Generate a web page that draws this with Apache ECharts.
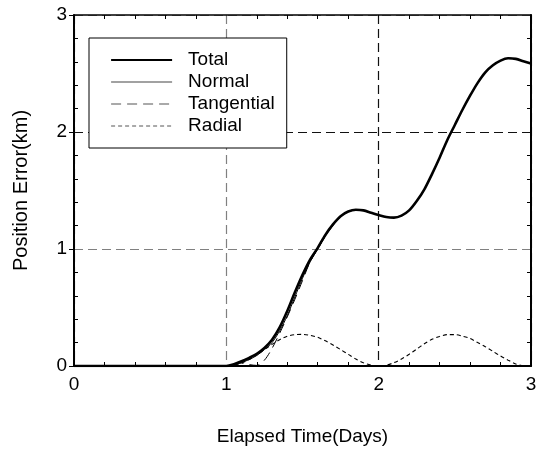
<!DOCTYPE html>
<html><head><meta charset="utf-8">
<script src="https://cdn.jsdelivr.net/npm/echarts@6/dist/echarts.min.js"></script>
<style>html,body{margin:0;padding:0;background:#fff}#c{width:540px;height:451px}</style>
</head><body><div id="c"></div>
<script>
const days = [0, 0.5, 1.0, 1.05, 1.1, 1.15, 1.2, 1.25, 1.3, 1.35, 1.4, 1.45, 1.5, 1.55, 1.6, 1.65, 1.7, 1.75, 1.8, 1.85, 1.9, 1.95, 2.0, 2.05, 2.1, 2.15, 2.2, 2.25, 2.3, 2.35, 2.4, 2.45, 2.5, 2.55, 2.6, 2.65, 2.7, 2.75, 2.8, 2.85, 2.9, 2.95, 3.0];
const totalErr = [0, 0, 0, 0.015, 0.04, 0.07, 0.105, 0.155, 0.225, 0.33, 0.47, 0.63, 0.78, 0.91, 1.01, 1.12, 1.21, 1.28, 1.32, 1.335, 1.33, 1.31, 1.29, 1.273, 1.268, 1.285, 1.33, 1.41, 1.51, 1.64, 1.78, 1.93, 2.06, 2.19, 2.31, 2.42, 2.51, 2.57, 2.61, 2.63, 2.625, 2.605, 2.585];
const normalErr = [0, 0, 0, 0.01, 0.03, 0.055, 0.09, 0.14, 0.2, 0.3, 0.43, 0.59, 0.75, 0.89, 1.0, 1.112, 1.205, 1.278, 1.318, 1.334, 1.33, 1.31, 1.29, 1.273, 1.268, 1.285, 1.33, 1.41, 1.51, 1.64, 1.78, 1.93, 2.06, 2.19, 2.31, 2.42, 2.51, 2.57, 2.61, 2.63, 2.625, 2.605, 2.585];
const tangentialErr = [0, 0, 0, 0.02, 0.025, 0.012, 0.005, 0.05, 0.15, 0.28, 0.42, 0.57, 0.73, 0.89, 1.0, 1.11, 1.2, 1.275, 1.318, 1.334, 1.33, 1.31, 1.29, 1.273, 1.268, 1.285, 1.33, 1.41, 1.51, 1.64, 1.78, 1.93, 2.06, 2.19, 2.31, 2.42, 2.51, 2.57, 2.61, 2.63, 2.625, 2.605, 2.585];
const radialErr = [0, 0, 0, 0.007, 0.026, 0.055, 0.095, 0.14, 0.185, 0.225, 0.255, 0.268, 0.27, 0.262, 0.245, 0.215, 0.18, 0.14, 0.1, 0.06, 0.028, 0.008, 0, 0.007, 0.028, 0.06, 0.1, 0.145, 0.19, 0.228, 0.252, 0.268, 0.268, 0.255, 0.235, 0.2, 0.165, 0.125, 0.085, 0.05, 0.018, 0.002, 0];
const seriesNames = ['Total', 'Normal', 'Tangential', 'Radial'];
const xTicks = [0, 1, 2, 3];
const yTicks = [0, 1, 2, 3];

const F = '"Liberation Sans", Arial, Helvetica, sans-serif';
function pairs(ys) { return days.map((d, i) => [d, ys[i]]); }
const chart = echarts.init(document.getElementById('c'), null, {renderer: 'canvas'});
const gridColors = ['#808080', '#808080', '#111', '#808080'];
const option = {
  animation: false,
  backgroundColor: '#fff',
  grid: {left: 74, right: 9, top: 15, bottom: 85, containLabel: false},
  xAxis: [
    {type: 'value', min: xTicks[0], max: xTicks[xTicks.length - 1], interval: 1, position: 'bottom',
     name: 'Elapsed Time(Days)', nameLocation: 'middle', nameGap: 61,
     nameTextStyle: {fontFamily: F, fontSize: 19, color: '#000'},
     axisLine: {onZero: false, lineStyle: {color: '#000', width: 2}},
     axisTick: {show: false, inside: true},
     minorTick: {show: true, splitNumber: 5, length: 4, lineStyle: {color: '#000', width: 1}},
     axisLabel: {fontFamily: F, fontSize: 19, color: '#000', margin: 9},
     splitLine: {show: true, lineStyle: {type: [9, 5], color: gridColors, width: 1.2}},
     minorSplitLine: {show: false}},
    {type: 'value', min: 0, max: 3, interval: 1, position: 'top',
     axisLine: {onZero: false, lineStyle: {color: '#000', width: 1.5}},
     axisTick: {show: false, inside: true},
     minorTick: {show: true, splitNumber: 5, length: 4, lineStyle: {color: '#000', width: 1}},
     axisLabel: {show: false}, splitLine: {show: false}}
  ],
  yAxis: [
    {type: 'value', min: yTicks[0], max: yTicks[yTicks.length - 1], interval: 1, position: 'left',
     name: 'Position Error(km)', nameLocation: 'middle', nameGap: 43,
     nameTextStyle: {fontFamily: F, fontSize: 20, color: '#000'},
     axisLine: {onZero: false, lineStyle: {color: '#000', width: 2}},
     axisTick: {show: true, inside: false, length: 5, lineStyle: {color: '#000', width: 1}},
     minorTick: {show: false},
     axisLabel: {fontFamily: F, fontSize: 19, color: '#000', margin: 7},
     splitLine: {show: true, lineStyle: {type: [9, 5], color: gridColors, width: 1.2}}},
    {type: 'value', min: 0, max: 3, interval: 1, position: 'left',
     axisLine: {show: false},
     axisTick: {show: false, inside: true},
     minorTick: {show: true, splitNumber: 5, length: 4, lineStyle: {color: '#000', width: 1}},
     axisLabel: {show: false}, splitLine: {show: false}},
    {type: 'value', min: 0, max: 3, interval: 1, position: 'right',
     axisLine: {onZero: false, lineStyle: {color: '#000', width: 2}},
     axisTick: {show: false, inside: true},
     minorTick: {show: true, splitNumber: 5, length: 4, lineStyle: {color: '#000', width: 1}},
     axisLabel: {show: false}, splitLine: {show: false}}
  ],
  legend: {
    orient: 'vertical', left: 89, top: 38, itemWidth: 61, itemHeight: 14, itemGap: 0,
    padding: [11, 12, 11, 21], borderColor: '#000', borderWidth: 1, backgroundColor: '#fff',
    itemStyle: {opacity: 0, color: 'transparent', borderWidth: 0},
    textStyle: {fontFamily: F, fontSize: 19, lineHeight: 22, color: '#000', padding: [0, 0, 0, 11]},
    data: [
      {name: seriesNames[0], lineStyle: {width: 2.2, color: '#000'}},
      {name: seriesNames[1], lineStyle: {width: 1.2, color: '#444'}},
      {name: seriesNames[2], lineStyle: {width: 1.2, color: '#555', type: [10, 6]}},
      {name: seriesNames[3], lineStyle: {width: 1, color: '#555', type: [4, 3]}}
    ]
  },
  series: [
    {name: seriesNames[0], type: 'line', data: pairs(totalErr), symbol: 'none', smooth: 0.3, z: 5,
     itemStyle: {color: '#000'}, lineStyle: {color: '#000', width: 2.6}},
    {name: seriesNames[1], type: 'line', data: pairs(normalErr), symbol: 'none', smooth: 0.3, z: 4,
     itemStyle: {color: '#000'}, lineStyle: {color: '#000', width: 1}},
    {name: seriesNames[2], type: 'line', data: pairs(tangentialErr), symbol: 'none', smooth: 0.3, z: 3,
     itemStyle: {color: '#000'}, lineStyle: {color: '#000', width: 1, type: [10, 6]}},
    {name: seriesNames[3], type: 'line', data: pairs(radialErr), symbol: 'none', smooth: 0.3, z: 3,
     itemStyle: {color: '#000'}, lineStyle: {color: '#000', width: 1.1, type: [4, 3]}}
  ]
};
chart.setOption(option);
</script></body></html>
